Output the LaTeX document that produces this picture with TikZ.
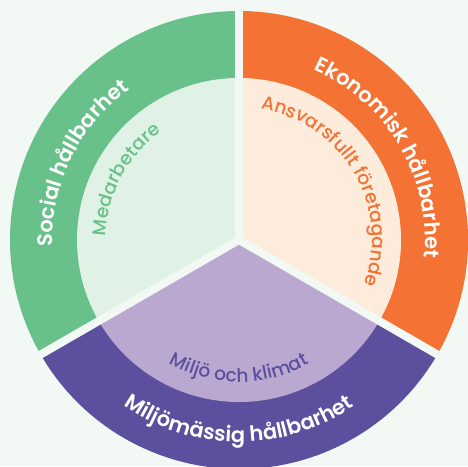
\documentclass[tikz,border=0pt]{standalone}
\usepackage{fontspec}
\setmainfont{Poppins}
\newfontfamily\popmed{Poppins Medium}
\newfontfamily\popsemi{Poppins SemiBold}
\usetikzlibrary{decorations.text}
\definecolor{bgc}{HTML}{F2F8F4}
\definecolor{grn}{HTML}{68C18A}
\definecolor{grnl}{HTML}{E0F2E6}
\definecolor{org}{HTML}{F37234}
\definecolor{orgl}{HTML}{FDECDC}
\definecolor{pur}{HTML}{5B4F9E}
\definecolor{purl}{HTML}{BBA8D0}
\newcommand{\outerfnt}{\popsemi\fontsize{21}{24}\selectfont}
\newcommand{\innerfnt}{\popmed\fontsize{18.6}{21}\selectfont}
\begin{document}
\begin{tikzpicture}[x=1pt,y=1pt,
  gapline/.style={draw=bgc,line width=8pt},
  arclabel/.style={decorate,decoration={text along path,text align=center,text={#1}}}]
\fill[bgc] (0,0) rectangle (468,466);
\useasboundingbox (0,0) rectangle (468,466);
\coordinate (c) at (239,226);
% outer sectors
\fill[grn] (c) -- ++(90:229) arc[start angle=90,end angle=210,radius=229] -- cycle;
\fill[org] (c) -- ++(-30:229) arc[start angle=-30,end angle=90,radius=229] -- cycle;
\fill[pur] (c) -- ++(210:229) arc[start angle=210,end angle=330,radius=229] -- cycle;
% inner sectors
\fill[grnl] (c) -- ++(90:162) arc[start angle=90,end angle=210,radius=162] -- cycle;
\fill[orgl] (c) -- ++(-30:162) arc[start angle=-30,end angle=90,radius=162] -- cycle;
\fill[purl] (c) -- ++(210:162) arc[start angle=210,end angle=330,radius=162] -- cycle;
% gaps
\draw[gapline] (c) -- ++(90:240);
\draw[gapline] (c) -- ++(210:240);
\draw[gapline] (c) -- ++(330:240);
% labels
\path[arclabel={|\outerfnt\color{white}|Social hållbarhet}] (c) ++(214:186) arc[start angle=214,end angle=94,radius=186];
\path[arclabel={|\outerfnt\color{white}|Ekonomisk hållbarhet}] (c) ++(92:186) arc[start angle=92,end angle=-31,radius=186];
\path[arclabel={|\outerfnt\color{white}|Miljömässig hållbarhet}] (c) ++(200:202) arc[start angle=200,end angle=340,radius=202];
\path[arclabel={|\innerfnt\color{grn}|Medarbetare}] (c) ++(202:133) arc[start angle=202,end angle=102,radius=133];
\path[arclabel={|\innerfnt\color{org}|Ansvarsfullt företagande}] (c) ++(92:133) arc[start angle=92,end angle=-31,radius=133];
\path[arclabel={|\innerfnt\color{pur}|Miljö och klimat}] (c) ++(210:142) arc[start angle=210,end angle=330,radius=142];
\end{tikzpicture}
\end{document}
